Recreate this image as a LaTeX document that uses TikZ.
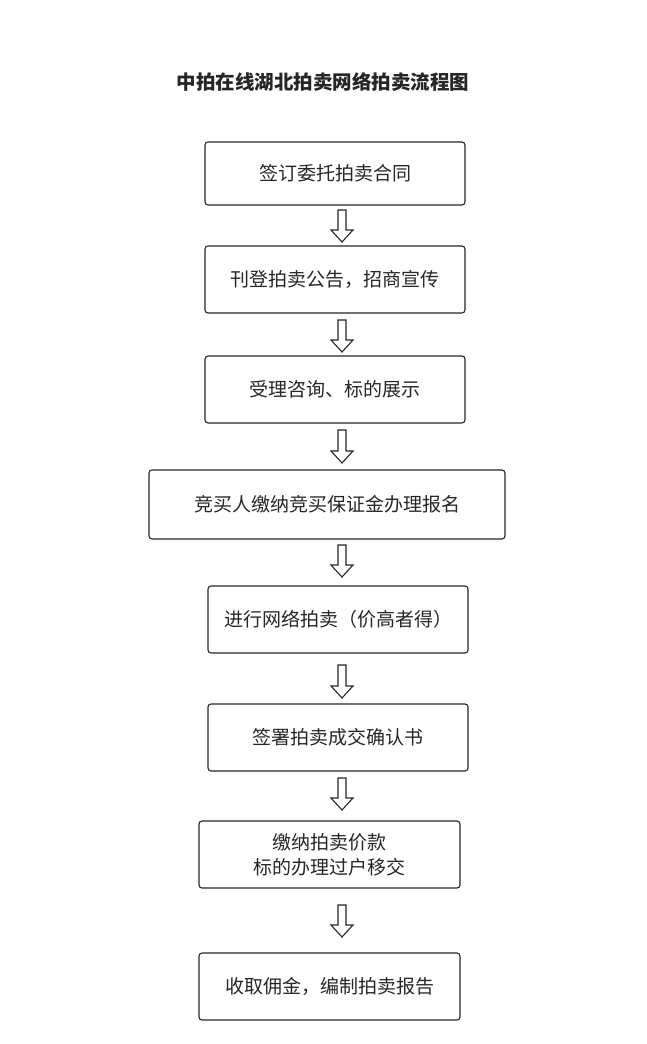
\documentclass[tikz,border=0pt]{standalone}
\usepackage{fontspec}
\setmainfont{Noto Sans CJK SC}
\begin{document}
\begin{tikzpicture}[x=1pt,y=-1pt,
 box/.style={draw=black!85,line width=1.1pt,rounded corners=3pt,inner sep=0pt,font=\fontsize{19}{25}\selectfont,text=black!85,align=center},
 harrow/.style={draw=black!85,line width=1.1pt,fill=white}]
\useasboundingbox (0,0) rectangle (647,1044);
\newcommand\bx[6]{\node[box,minimum width=#4-#2,minimum height=#5-#3] (#1) at ({(#2+#4)/2},{(#3+#5)/2}) {#6};}
\node[font=\bfseries\fontsize{19.5}{22}\selectfont,text=black!85] (title) at (323,82) {中拍在线湖北拍卖网络拍卖流程图};
\bx{b1}{205}{142}{465}{205}{签订委托拍卖合同}
\bx{b2}{205}{246}{465}{313}{刊登拍卖公告，招商宣传}
\bx{b3}{205}{356}{465}{423}{受理咨询、标的展示}
\bx{b4}{149}{470}{505}{539}{竞买人缴纳竞买保证金办理报名}
\bx{b5}{208}{586}{468}{653}{进行网络拍卖（价高者得）}
\bx{b6}{208}{704}{468}{771}{签署拍卖成交确认书}
\bx{b7}{199}{821}{460}{888}{缴纳拍卖价款\\标的办理过户移交}
\bx{b8}{199}{953}{460}{1020}{收取佣金，编制拍卖报告}
\newcommand\harr[2]{\draw[harrow] (342-4,#1) -- (342+4,#1) -- (342+4,#2-12) -- (342+11,#2-12) -- (342,#2) -- (342-11,#2-12) -- (342-4,#2-12) -- cycle;}
\harr{210}{242}
\harr{320}{352}
\harr{430}{463}
\harr{545}{577}
\harr{665}{698}
\harr{778}{810}
\harr{905}{937}
\end{tikzpicture}
\end{document}
